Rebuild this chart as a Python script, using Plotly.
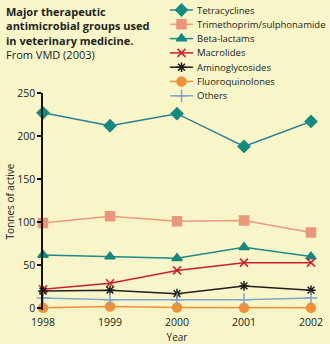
import plotly.graph_objects as go

years = [1998, 1999, 2000, 2001, 2002]
series_names = ["Tetracyclines", "Trimethoprim/sulphonamide", "Beta-lactams", "Macrolides",
                "Aminoglycosides", "Fluoroquinolones", "Others"]
tetracyclines = [227, 212, 226, 188, 217]
trimethoprim = [99, 107, 101, 102, 88]
beta_lactams = [62, 60, 58, 71, 60]
macrolides = [22, 29, 44, 53, 53]
aminoglycosides = [20, 21, 17, 26, 21]
fluoroquinolones = [0.5, 2, 1, 0.5, 0.5]
others = [12, 10, 10, 10, 12]
y_ticks = [0, 50, 100, 150, 200, 250]

values = [tetracyclines, trimethoprim, beta_lactams, macrolides, aminoglycosides, fluoroquinolones, others]
line_colors = ["#2a7f98", "#ec9a7e", "#1e8a86", "#cc1f2e", "#1e1e1e", "#f0903a", "#7fa6cc"]
marker_colors = ["#178a80", "#e9967a", "#16877e", "#cc1f2e", "#1e1e1e", "#f0903a", "#7fa6cc"]
symbols = ["diamond", "square", "triangle-up", "x-thin-open", "asterisk-open", "circle", "cross-thin-open"]
sizes = [9, 9, 9, 8, 8, 9, 9]

W, H = 330, 344
BG = "#f8f6c8"
FONT = "Open Sans, Lato, sans-serif"
TXT = "#222222"

# layout positions (pixels)
plot_left, plot_right, plot_top, plot_bottom = 43, 311, 93, 310
leg_line_x0, leg_line_x1, leg_text_x = 170, 193, 195
leg_row0, leg_row_step = 10, 14.3

fig = go.Figure()
for name, vals, lc, mc, sym, sz in zip(series_names, values, line_colors, marker_colors, symbols, sizes):
    fig.add_trace(go.Scatter(
        x=years, y=vals, name=name, mode="lines+markers",
        line=dict(color=lc, width=1.5),
        marker=dict(symbol=sym, size=sz, color=mc, line=dict(color=mc, width=1.5)),
        cliponaxis=False, showlegend=False,
    ))

# custom legend on an overlay pixel axis
for i, (name, lc, mc, sym, sz) in enumerate(zip(series_names, line_colors, marker_colors, symbols, sizes)):
    ry = leg_row0 + i * leg_row_step
    fig.add_trace(go.Scatter(
        x=[leg_line_x0, leg_line_x1], y=[ry, ry], mode="lines",
        line=dict(color=lc, width=1.5), xaxis="x2", yaxis="y2",
        showlegend=False, hoverinfo="skip", cliponaxis=False,
    ))
    fig.add_trace(go.Scatter(
        x=[(leg_line_x0 + leg_line_x1) / 2], y=[ry], mode="markers",
        marker=dict(symbol=sym, size=sz, color=mc, line=dict(color=mc, width=1.5)),
        xaxis="x2", yaxis="y2", showlegend=False, hoverinfo="skip", cliponaxis=False,
    ))
    fig.add_annotation(x=leg_text_x, y=ry, xref="x2", yref="y2", text=name,
                       xanchor="left", yanchor="middle", showarrow=False,
                       font=dict(size=9.5, color=TXT, family=FONT))

fig.update_layout(
    width=W, height=H,
    margin=dict(l=0, r=0, t=0, b=0),
    paper_bgcolor=BG, plot_bgcolor="rgba(0,0,0,0)",
    font=dict(family=FONT, size=10, color=TXT),
    showlegend=False,
    xaxis=dict(domain=[plot_left / W, plot_right / W], range=[1998, 2002],
               tickvals=years, ticktext=[str(y) for y in years],
               showgrid=False, zeroline=False, showline=False,
               ticks="outside", ticklen=2, tickcolor="rgba(0,0,0,0)",
               title=dict(text="Year", font=dict(size=10), standoff=6),
               tickfont=dict(size=10.5), automargin=False),
    yaxis=dict(domain=[1 - plot_bottom / H, 1 - plot_top / H], range=[-2, 250], tickvals=y_ticks,
               showgrid=False, zeroline=False, showline=True, linecolor="#111111", linewidth=1.5,
               ticks="outside", ticklen=4, tickcolor="#111111", tickwidth=1.5,
               title=dict(text="Tonnes of active", font=dict(size=10), standoff=1),
               tickfont=dict(size=10.5), automargin=False),
    xaxis2=dict(domain=[0, 1], range=[0, W], visible=False, fixedrange=True, anchor="y2"),
    yaxis2=dict(domain=[0, 1], range=[H, 0], visible=False, fixedrange=True, anchor="x2"),
)

fig.add_annotation(
    xref="x2", yref="y2", x=4, y=2, xanchor="left", yanchor="top",
    align="left", showarrow=False,
    text="<b>Major therapeutic<br>antimicrobial groups used<br>in veterinary medicine.</b><br>From VMD (2003)",
    font=dict(size=11, color=TXT, family=FONT),
)

fig.write_html("out.html")
